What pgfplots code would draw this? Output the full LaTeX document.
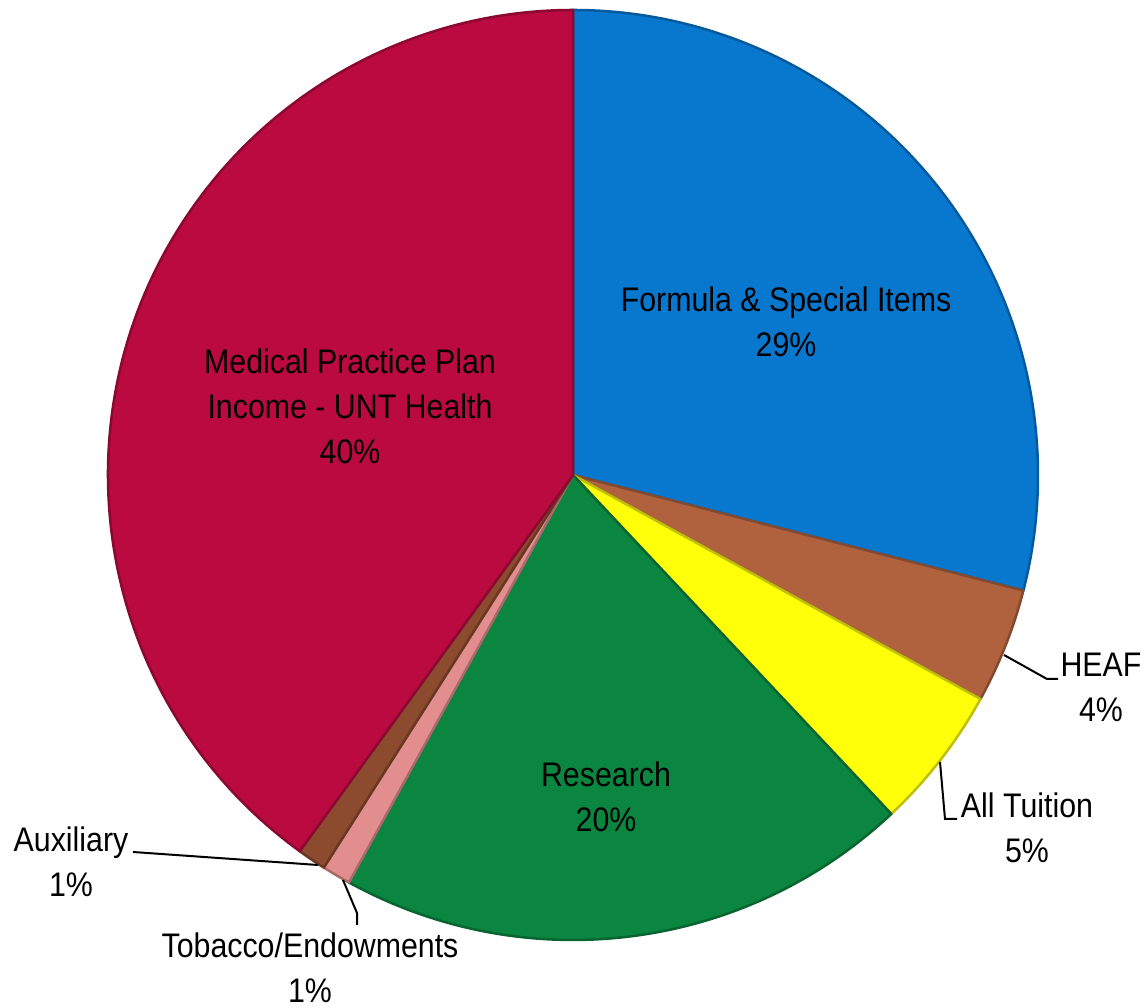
\documentclass[border=0pt]{standalone}
\usepackage{pgfplots}
\pgfplotsset{compat=1.18}
\usepackage{fontspec}
\setmainfont{Liberation Sans}[FakeStretch=0.89]

\definecolor{cForm}{HTML}{0878CF}
\definecolor{cHeaf}{HTML}{B0623F}
\definecolor{cTuit}{HTML}{FFFF0A}
\definecolor{cRes}{HTML}{0A8640}
\definecolor{cTob}{HTML}{E28E8E}
\definecolor{cAux}{HTML}{8C4A2E}
\definecolor{cMed}{HTML}{BA0A40}

\begin{document}
\begin{tikzpicture}
\begin{axis}[
    scale only axis,
    width=11.46cm, height=10.08cm,
    xmin=0, xmax=1146, ymin=0, ymax=1008,
    hide axis, clip=false,
]
% shares in percent, clockwise from 12 o'clock
\pgfplotsextra{
  \def\ang{90}
  \foreach \v/\c in {29/cForm,4/cHeaf,5/cTuit,20/cRes,1/cTob,1/cAux,40/cMed} {
    \pgfmathsetmacro\endang{\ang-3.6*\v}
    \filldraw[fill=\c, draw=\c!75!black, line width=0.25mm, line join=round]
      (axis cs:573,533) -- ++(\ang:4.65cm)
      arc[start angle=\ang, end angle=\endang, radius=4.65cm] -- cycle;
    \global\let\ang\endang
  }
}
\pgfplotsextra{
  \tikzset{lbl/.style={align=center, font=\fontsize{9.7}{12.8}\selectfont, inner sep=0pt}}
  \node[lbl] at (axis cs:786,686) {Formula \& Special Items\\29\%};
  \node[lbl] at (axis cs:350,602) {Medical Practice Plan\\Income - UNT Health\\40\%};
  \node[lbl] at (axis cs:606,211) {Research\\20\%};
  \node[lbl] at (axis cs:1101,321) {HEAF\\4\%};
  \node[lbl] at (axis cs:1027,180) {All Tuition\\5\%};
  \node[lbl] at (axis cs:71,146) {Auxiliary\\1\%};
  \node[lbl] at (axis cs:310,40) {Tobacco/Endowments\\1\%};
  \draw[line width=0.2mm] (axis cs:1004,353) -- (axis cs:1047,329) -- (axis cs:1058,329);
  \draw[line width=0.2mm] (axis cs:940,246) -- (axis cs:945,189) -- (axis cs:957,189);
  \draw[line width=0.2mm] (axis cs:133,156) -- (axis cs:318,143);
  \draw[line width=0.2mm] (axis cs:343,128) -- (axis cs:357,95) -- (axis cs:357,83);
}
\end{axis}
\pgfresetboundingbox
\useasboundingbox (0,0) rectangle (11.46cm,10.08cm);
\end{tikzpicture}
\end{document}
